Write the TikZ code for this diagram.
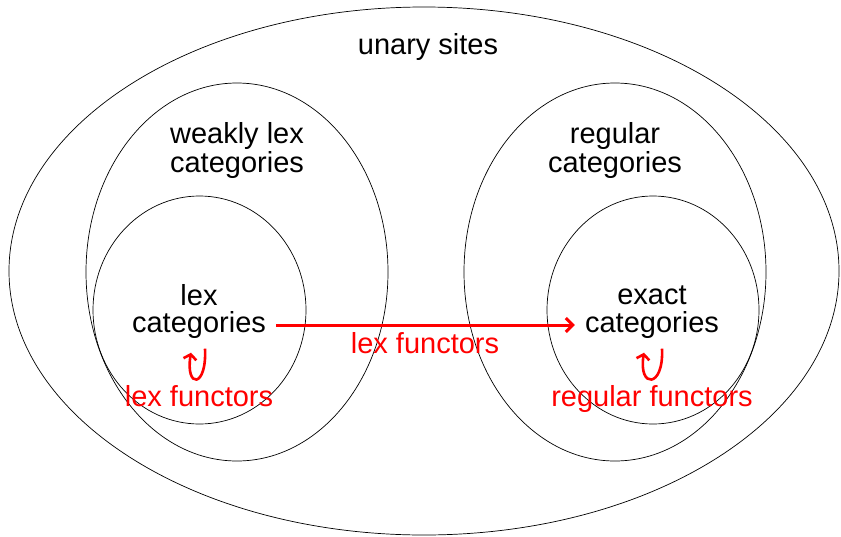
\documentclass[tikz,border=0pt]{standalone}
\usepackage{fontspec}
\setmainfont{Liberation Sans}
\usetikzlibrary{shapes.geometric,arrows.meta}
\begin{document}
\begin{tikzpicture}[x=1pt,y=-1pt,
  zone/.style={draw, ellipse, inner sep=0pt, line width=0.7pt},
  txt/.style={font=\fontsize{29}{29}\selectfont, inner sep=0pt, align=center},
  redtxt/.style={txt, text=red},
  functor/.style={draw=red, line width=3pt, shorten <=10pt, shorten >=10pt,
    -{Straight Barb[length=7pt,width=14pt]}},
  endo/.style={draw=red, line width=2.6pt, -{Straight Barb[length=5pt,width=13pt]}}]
\useasboundingbox (0,0) rectangle (841,536);

% nested classes of categories
\node[zone, minimum width=830pt, minimum height=528pt] (sites) at (424,271) {};
\node[zone, minimum width=302pt, minimum height=378pt] (wlex)  at (237,272) {};
\node[zone, minimum width=213pt, minimum height=228pt] (lexz)  at (199.5,310) {};
\node[zone, minimum width=302pt, minimum height=378pt] (reg)   at (615,272) {};
\node[zone, minimum width=212pt, minimum height=228pt] (exz)   at (653,310) {};

% class names
\node[txt] (us) at (428,47) {unary sites};
\node[txt] (wl) at (237,150) {weakly lex\\categories};
\node[txt] (rg) at (615,150) {regular\\categories};
\node[txt] (lexA) at (199,295) {lex};
\node[txt] (lexB) at (199,325) {categories};
\node[txt] (exA) at (652,295) {exact};
\node[txt] (exB) at (652,325) {categories};

% functors between the classes
\draw[functor] (lexB) -- (exB);
\node[redtxt] (lf) at (425,343) {lex functors};

% endofunctor loops (canvas shifts point upwards, hence the minus signs)
\draw[endo] ([xshift=6pt,yshift=-10pt]lexB.south) .. controls +(2,40) and +(-6,36) .. ([xshift=-8pt,yshift=-14pt]lexB.south);
\node[redtxt] (lfl) at (199,396) {lex functors};

\draw[endo] ([xshift=10pt,yshift=-10pt]exB.south) .. controls +(2,40) and +(-6,36) .. ([xshift=-8pt,yshift=-14pt]exB.south);
\node[redtxt] (rf) at (652,399) {regular functors};
\end{tikzpicture}
\end{document}
